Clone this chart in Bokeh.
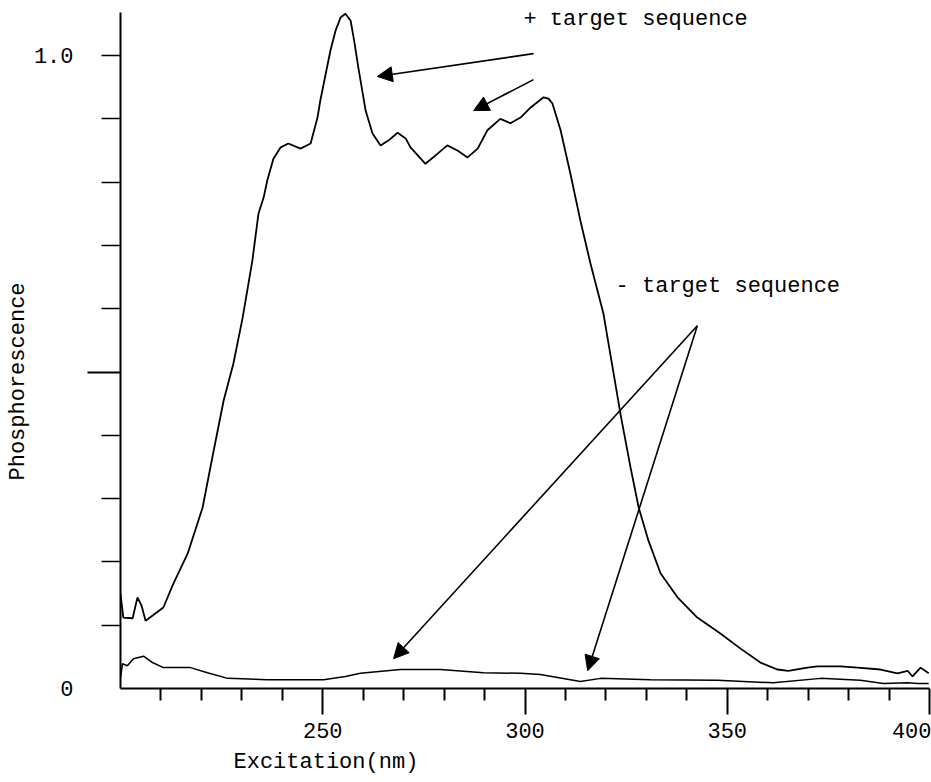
from bokeh.plotting import figure
from bokeh.models import Range1d, FixedTicker, LinearAxis, Label, Arrow, NormalHead, Title
from bokeh.embed import file_html
from bokeh.resources import INLINE

# ---- data ----
wl_plus = [200.0, 200.7, 203.0, 204.2, 205.2, 206.2, 210.6, 213.1, 216.6, 220.3, 222.7,
           225.5, 227.9, 230.2, 232.6, 234.1, 235.4, 236.3, 237.8, 239.6, 241.5, 244.5,
           247.0, 248.7, 249.4, 251.9, 253.2, 254.4, 255.6, 256.9, 257.8, 258.8, 260.6,
           262.3, 264.3, 266.3, 268.5, 270.5, 271.7, 275.4, 278.4, 280.8, 283.3, 285.8,
           288.3, 290.7, 293.9, 296.4, 298.9, 301.4, 304.6, 305.8, 306.8, 308.8, 311.2,
           313.7, 316.2, 319.4, 321.9, 323.6, 326.1, 328.1, 330.5, 333.5, 337.7, 342.6,
           348.3, 353.3, 358.2, 362.4, 365.1, 369.8, 372.3, 378.0, 382.2, 387.9, 392.1,
           394.6, 395.8, 397.8, 399.8]
phos_plus = [0.150, 0.112, 0.111, 0.144, 0.131, 0.107, 0.128, 0.166, 0.213, 0.286, 0.365,
             0.455, 0.513, 0.586, 0.676, 0.750, 0.776, 0.803, 0.837, 0.855, 0.861, 0.853,
             0.861, 0.902, 0.929, 1.008, 1.040, 1.060, 1.066, 1.055, 1.022, 0.981, 0.913,
             0.877, 0.858, 0.866, 0.878, 0.869, 0.855, 0.829, 0.845, 0.858, 0.850, 0.839,
             0.853, 0.882, 0.900, 0.893, 0.902, 0.918, 0.934, 0.932, 0.924, 0.882, 0.814,
             0.739, 0.671, 0.592, 0.498, 0.434, 0.349, 0.286, 0.234, 0.182, 0.144, 0.112,
             0.087, 0.063, 0.041, 0.030, 0.028, 0.033, 0.035, 0.035, 0.033, 0.030, 0.024,
             0.028, 0.019, 0.033, 0.024]

wl_minus = [200.0, 200.5, 201.7, 203.2, 205.7, 207.9, 210.6, 217.3, 221.5, 226.5, 236.3,
            250.2, 255.6, 259.3, 269.2, 279.1, 289.7, 298.9, 303.8, 313.7, 318.7, 331.0,
            347.6, 361.4, 373.1, 382.9, 388.6, 394.6, 397.0, 399.8]
phos_minus = [0.017, 0.039, 0.036, 0.047, 0.051, 0.041, 0.033, 0.033, 0.025, 0.016, 0.014,
              0.014, 0.019, 0.024, 0.030, 0.030, 0.025, 0.024, 0.022, 0.011, 0.016, 0.014,
              0.013, 0.009, 0.016, 0.013, 0.008, 0.009, 0.008, 0.008]

x_major_ticks = [250, 300, 350, 400]
x_minor_ticks = [210, 220, 230, 240, 260, 270, 280, 290, 310, 320, 330, 340,
                 360, 370, 380, 390]
y_label_ticks = [0, 1.0]
y_label_text = {0: "0", 1.0: "1.0"}
y_long_ticks = [0.5]
y_short_ticks = [0.1, 0.2, 0.3, 0.4, 0.6, 0.7, 0.8, 0.9, 1.0]

x_title = "Excitation(nm)"
y_title = "Phosphorescence"
plus_text = "+ target sequence"
minus_text = "- target sequence"
plus_text_pos = (299.6, 1.057)
minus_text_pos = (322.4, 0.635)
plus_arrows = [((302.1, 1.003), (263.5, 0.967)), ((302.1, 0.962), (287.3, 0.913))]
minus_arrows = [((342.6, 0.573), (267.5, 0.047)), ((342.6, 0.573), (315.5, 0.028))]

FONT = "Liberation Mono"
FS = "22px"

p = figure(width=931, height=782, x_range=Range1d(200, 400), y_range=Range1d(0, 1.068),
           output_backend="svg", toolbar_location=None,
           min_border_left=120, min_border_right=2, min_border_top=12, min_border_bottom=94)
p.outline_line_color = None
p.xgrid.visible = False
p.ygrid.visible = False
p.background_fill_color = "white"
p.border_fill_color = "white"

p.line(wl_plus, phos_plus, line_color="black", line_width=1.8)
p.line(wl_minus, phos_minus, line_color="black", line_width=1.5)

# x axis
xa = p.xaxis[0]
xa.ticker = FixedTicker(ticks=x_major_ticks, minor_ticks=x_minor_ticks)
xa.axis_line_width = 2
xa.axis_line_color = "black"
xa.major_tick_out = 26
xa.major_tick_in = 0
xa.minor_tick_out = 12
xa.minor_tick_in = 0
xa.major_tick_line_width = 2
xa.minor_tick_line_width = 2
xa.major_label_standoff = 8
xa.major_label_text_font = FONT
xa.major_label_text_font_size = FS
xa.major_label_text_color = "black"

# inner y axis: ticks only
ya = p.yaxis[0]
ya.ticker = FixedTicker(ticks=y_long_ticks, minor_ticks=y_short_ticks)
ya.axis_line_width = 2
ya.axis_line_color = "black"
ya.major_tick_out = 33
ya.major_tick_in = 0
ya.minor_tick_out = 19
ya.minor_tick_in = 0
ya.major_tick_line_width = 2
ya.minor_tick_line_width = 1.5
ya.major_label_overrides = {0.5: ""}
ya.major_label_standoff = 0

# outer y axis: labels only
ya2 = LinearAxis(ticker=FixedTicker(ticks=y_label_ticks, minor_ticks=[]),
                 major_label_overrides=y_label_text,
                 axis_line_alpha=0, major_tick_out=0, major_tick_in=0,
                 minor_tick_out=0, minor_tick_in=0,
                 major_label_standoff=14,
                 major_label_text_font=FONT, major_label_text_font_size=FS,
                 major_label_text_color="black")
p.add_layout(ya2, "left")

p.add_layout(Title(text=x_title, align="left", offset=113, standoff=15,
                   text_font=FONT, text_font_size=FS, text_font_style="normal",
                   text_color="black"), "below")
p.add_layout(Title(text=y_title, align="left", offset=208, standoff=0,
                   text_font=FONT, text_font_size=FS, text_font_style="normal",
                   text_color="black"), "left")

p.add_layout(Label(x=plus_text_pos[0], y=plus_text_pos[1], text=plus_text, text_font=FONT,
                   text_font_size=FS, text_align="left", text_baseline="middle",
                   text_color="black"))
p.add_layout(Label(x=minus_text_pos[0], y=minus_text_pos[1], text=minus_text, text_font=FONT,
                   text_font_size=FS, text_align="left", text_baseline="middle",
                   text_color="black"))

for (s, e) in plus_arrows + minus_arrows:
    p.add_layout(Arrow(x_start=s[0], y_start=s[1], x_end=e[0], y_end=e[1],
                       line_color="black", line_width=1.6,
                       end=NormalHead(size=15, fill_color="black", line_color="black")))

open("out.html", "w").write(file_html(p, INLINE))
